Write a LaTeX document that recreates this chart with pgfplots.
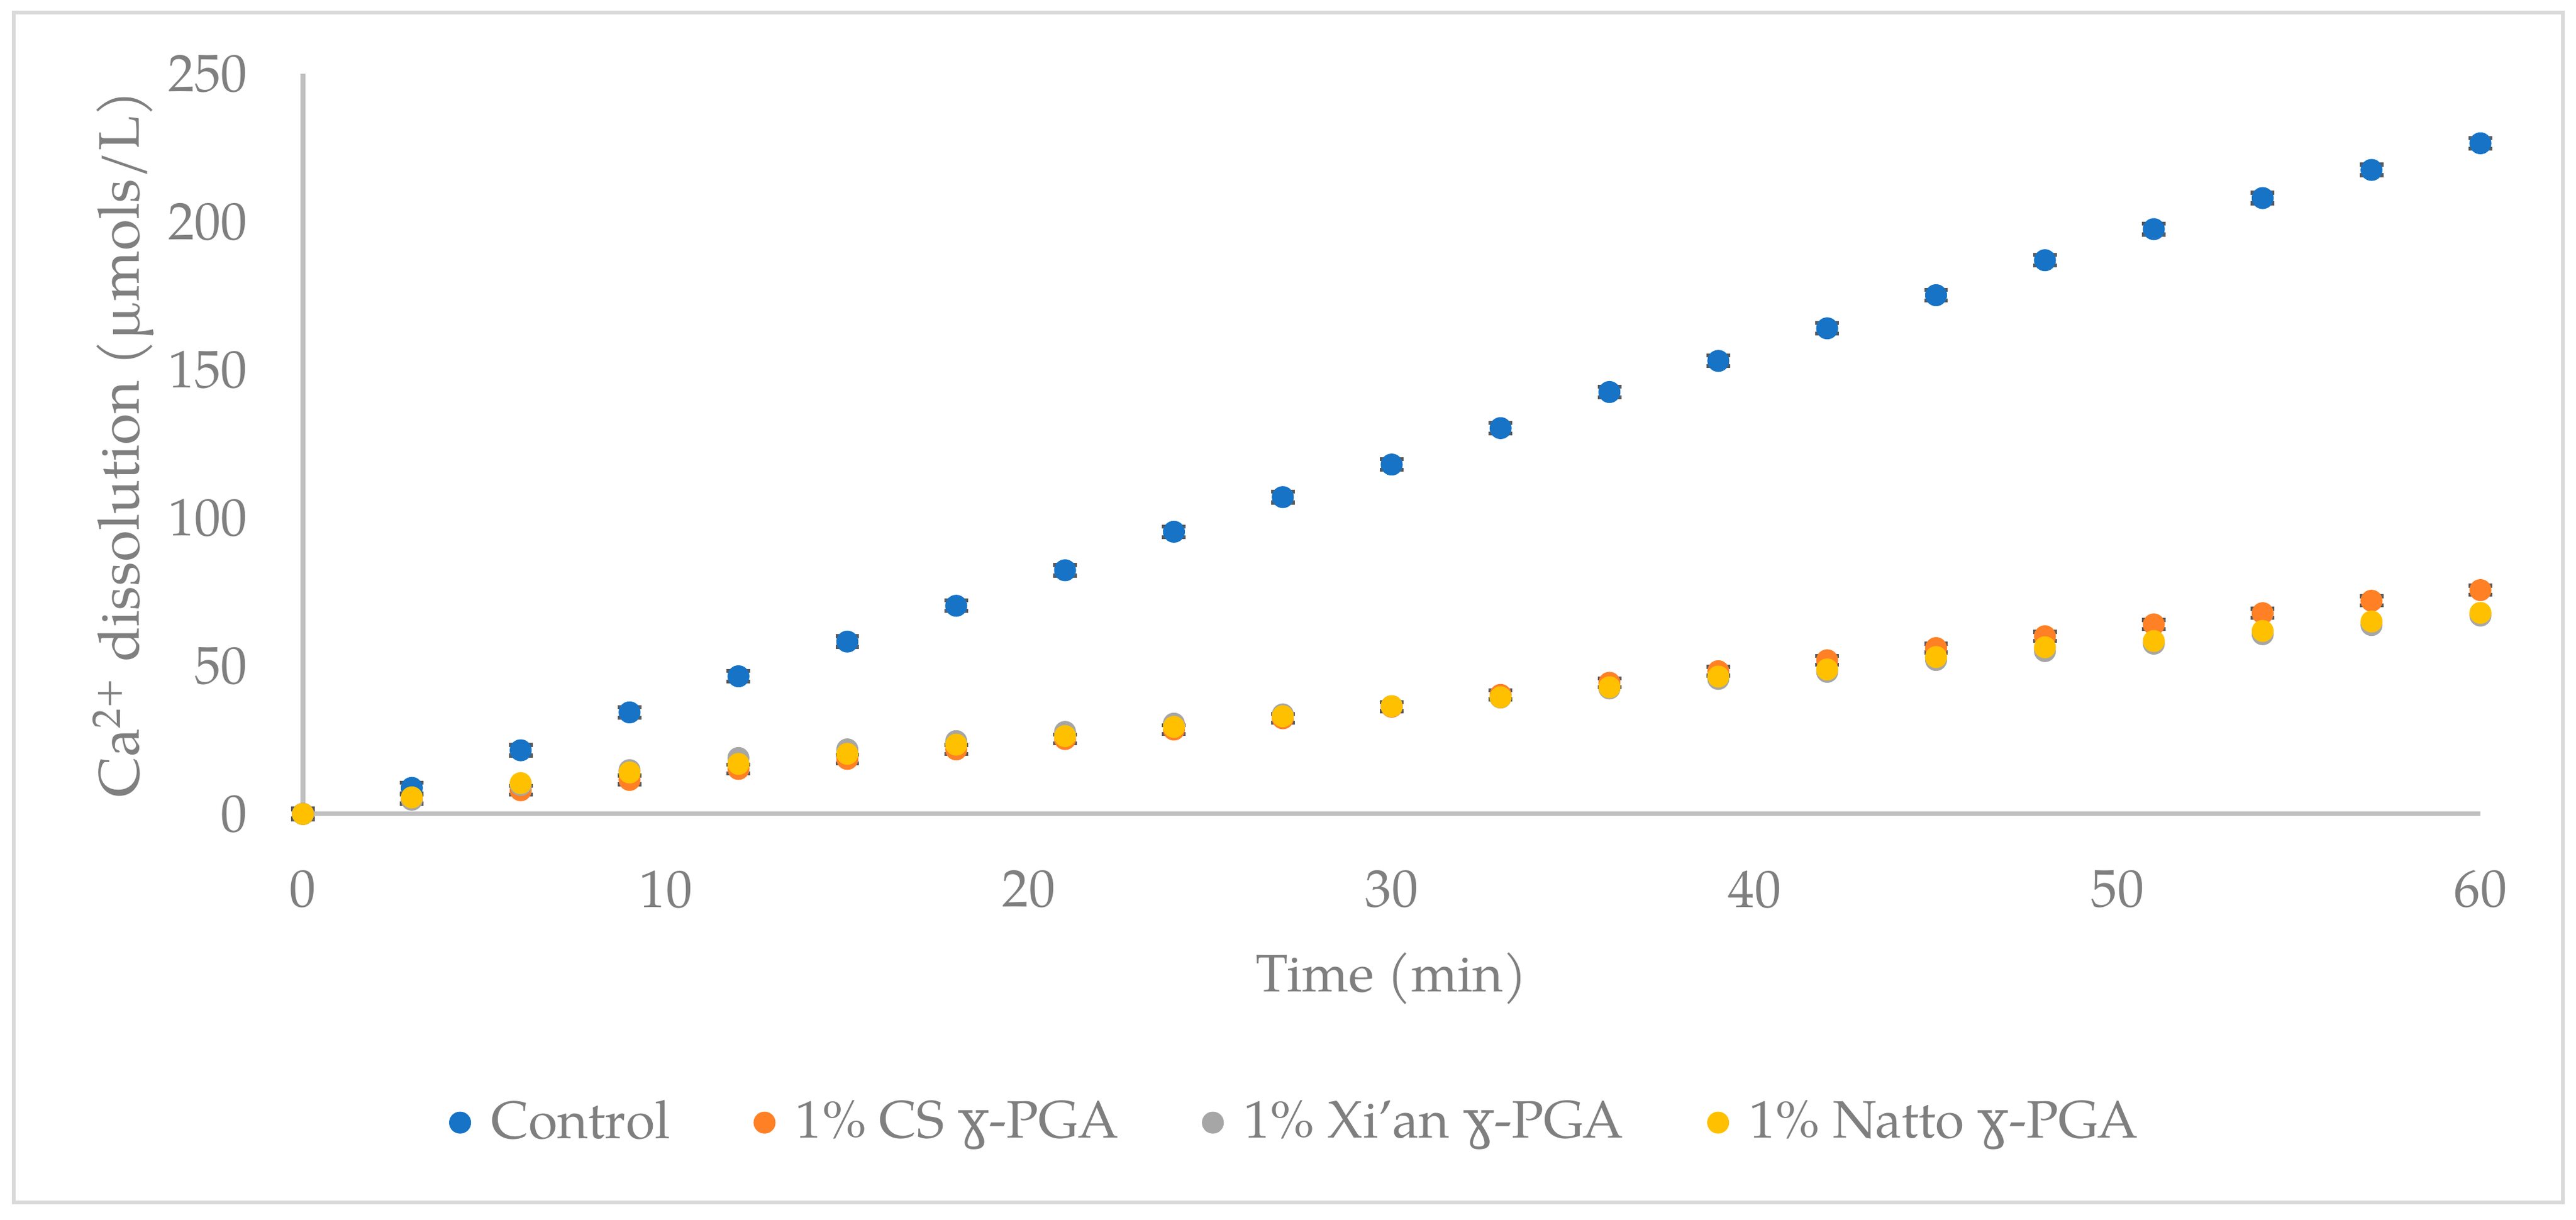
\documentclass[border=0pt]{standalone}
\usepackage{fontspec}
\setmainfont{TeX Gyre Pagella}
\newfontfamily\gfont{DejaVu Serif}
\usepackage{pgfplots}
\pgfplotsset{compat=1.18}
\definecolor{cblue}{HTML}{1673C6}
\definecolor{corange}{HTML}{FF8025}
\definecolor{cgray}{HTML}{A6A6A6}
\definecolor{cyellow}{HTML}{FFC000}
\definecolor{tgray}{HTML}{7F7F7F}
\definecolor{agray}{HTML}{BFBFBF}
\definecolor{bgray}{HTML}{D9D9D9}
\definecolor{capgray}{HTML}{595959}
\newcommand{\pga}{{\gfont ɣ}-PGA}
\begin{document}
\begin{tikzpicture}
\useasboundingbox (0,0) rectangle (20.62cm,9.765cm);
\draw[color=bgray, line width=0.85pt] (0.11cm,0.14cm) rectangle (20.515cm,9.665cm);
\begin{axis}[
  at={(2.425cm,3.25cm)}, anchor=south west,
  scale only axis, width=17.43cm, height=5.925cm,
  xmin=0, xmax=60, ymin=0, ymax=250,
  xtick={0,10,...,60}, ytick={0,50,...,250},
  axis x line=bottom, axis y line=left,
  axis line style={-, color=agray, line width=1pt},
  major tick length=0pt,
  clip=false,
  /pgf/number format/assume math mode=true,
  ticklabel style={font=\fontsize{12}{14}\selectfont, text=tgray},
  xticklabel style={anchor=north, inner sep=0pt, yshift=-12.7pt},
  yticklabel style={anchor=east, inner sep=0pt, xshift=-12.5pt},
  xlabel={Time (min)},
  ylabel={Ca\textsuperscript{2+} dissolution (µmols/L)},
  xlabel style={at={(axis description cs:0.5,-0.2397)}, anchor=base, font=\fontsize{12}{14}\selectfont, text=tgray},
  ylabel style={at={(axis description cs:-0.07516,0.5)}, anchor=base, font=\fontsize{13}{15}\selectfont, text=tgray},
  legend style={at={(axis description cs:0.457,-0.417)}, anchor=center, draw=none, fill=none,
    font=\fontsize{12}{14}\selectfont, text=tgray,
    /tikz/every even column/.append style={column sep=17pt}},
  legend columns=4,
  legend image code/.code={\draw[#1] plot coordinates {(0cm,0cm)}; \path (-2.3pt,0) (4.9pt,0);},
]
\addplot[only marks, mark=*, mark size=2.3pt, color=cblue,
  error bars/.cd, y dir=both, y fixed=1.8,
  error bar style={color=capgray, line width=0.6pt},
  error mark options={rotate=90, color=capgray, mark size=2.7pt, line width=0.9pt}]
coordinates {
(0,0) (3,8.8) (6,21.5) (9,34.3) (12,46.5) (15,58.2) (18,70.3) (21,82.3) (24,95.3) (27,107)
(30,118) (33,130.3) (36,142.5) (39,153) (42,164) (45,175.2) (48,187) (51,197.5) (54,208) (57,217.5) (60,226.5)
};
\addlegendentry{Control}
\addplot[only marks, mark=*, mark size=2.3pt, color=corange,
  error bars/.cd, y dir=both, y fixed=1.5,
  error bar style={color=capgray, line width=0.6pt},
  error mark options={rotate=90, color=capgray, mark size=2.7pt, line width=0.9pt}]
coordinates {
(0,0) (3,5) (6,8) (9,11.5) (12,15.2) (15,18.6) (18,21.8) (21,25.3) (24,28.5) (27,32.3)
(30,36.2) (33,40.2) (36,44.3) (39,48.2) (42,51.9) (45,56) (48,60) (51,64) (54,67.8) (57,72) (60,75.6)
};
\addlegendentry{1\% CS \pga}
\addplot[only marks, mark=*, mark size=2.3pt, color=cgray]
coordinates {
(0,0) (3,4.8) (6,9.8) (9,14.8) (12,18.9) (15,21.8) (18,24.6) (21,27.7) (24,30.5) (27,33.6)
(30,36.4) (33,39.3) (36,42.4) (39,45.6) (42,48) (45,52) (48,55) (51,57.5) (54,60.7) (57,63.8) (60,67)
};
\addlegendentry{1\% Xi’an \pga}
\addplot[only marks, mark=*, mark size=2.3pt, color=cyellow]
coordinates {
(0,0) (3,5.6) (6,10.4) (9,14) (12,16.9) (15,20.3) (18,23.4) (21,26.3) (24,29.4) (27,33)
(30,36.4) (33,39.4) (36,42.8) (39,46.4) (42,48.8) (45,53) (48,56.3) (51,58.4) (54,61.8) (57,65) (60,67.9)
};
\addlegendentry{1\% Natto \pga}
\end{axis}
\end{tikzpicture}
\end{document}
